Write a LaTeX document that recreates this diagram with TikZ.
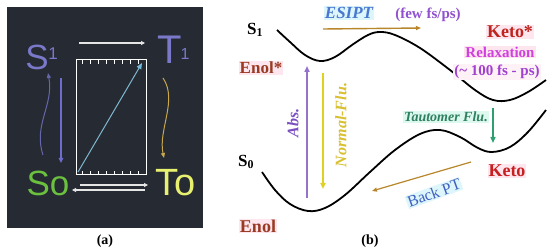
\documentclass[tikz,border=0pt]{standalone}
\usepackage{fontspec}
\setmainfont{Liberation Serif}
\newfontfamily\arialf{Liberation Sans}
\usetikzlibrary{arrows.meta}
\newcommand\fsz[1]{\fontsize{#1}{#1}\selectfont}
\definecolor{panelbg}{HTML}{252A33}
\definecolor{lav}{HTML}{7A78C8}
\definecolor{sgreen}{HTML}{6CC040}
\definecolor{tyellow}{HTML}{E8F070}
\definecolor{gold}{HTML}{C9A84C}
\definecolor{diag}{HTML}{7FB8D0}
\definecolor{brownarr}{HTML}{B8862B}
\definecolor{pinkbg}{HTML}{FDE6EE}
\definecolor{cyanbg}{HTML}{DDF6FB}
\definecolor{mintbg}{HTML}{DDF8EE}
\definecolor{enolc}{HTML}{9A3A22}
\definecolor{ketoc}{HTML}{C82020}
\definecolor{esiptc}{HTML}{4A78D0}
\definecolor{fewc}{HTML}{9050D0}
\definecolor{relaxc}{HTML}{D040E0}
\definecolor{hundc}{HTML}{A040D0}
\definecolor{tautc}{HTML}{2E8060}
\definecolor{tautarr}{HTML}{2EA070}
\definecolor{absc}{HTML}{7A50C0}
\definecolor{normc}{HTML}{D8C030}
\definecolor{normarr}{HTML}{E0D020}
\definecolor{backc}{HTML}{4060C0}
\tikzset{
  wtip/.style={-{Triangle[length=4pt,width=4pt]}},
  warr/.style={draw=white!90!black, line width=1.4pt, wtip},
  tick/.style={draw=white, line width=0.8pt},
  lbl/.style={inner sep=1pt, font=\bfseries},
  curve/.style={line width=1.8pt, black},
  varr/.style={line width=1.6pt, -{Triangle[length=6pt,width=5pt]}}
}
\begin{document}
\begin{tikzpicture}[x=1pt,y=-1pt]
\useasboundingbox (0,0) rectangle (550,251);
\fill[white] (0,0) rectangle (550,251);
% ---------- panel (a)
\fill[panelbg] (7,7) rectangle (203,228);
\node[text=lav, font=\arialf\fsz{35}] (S) at (37,57) {S};
\node[text=lav, font=\arialf\fsz{17}] (S1i) at (53,54) {1};
\node[text=lav, font=\arialf\fsz{40}] (T) at (170,50) {T};
\node[text=lav, font=\arialf\fsz{16}, inner sep=0pt] (T1i) at (185,54) {1};
\node[text=sgreen, font=\arialf\fsz{35}] (So) at (48,183) {So};
\node[text=tyellow, font=\arialf\fsz{38}] (To) at (176,183) {To};
\draw[white, line width=1pt] (76,60) rectangle (146,175);
\foreach \x in {82,90,...,138} {
  \draw[tick] (\x,60) -- (\x,64);
  \draw[tick] (\x,175) -- (\x,171);
}
\coordinate (dA) at (78,172);
\coordinate (dB) at (142,63);
\draw[diag, line width=1pt, -{Triangle[length=6pt,width=5pt,fill=cyan!70!white]}] (dA) -- (dB);
\coordinate (tA) at (79,43); \coordinate (tB) at (145,43);
\draw[warr] (tA) -- (tB);
\coordinate (bA) at (80,185); \coordinate (bB) at (148,185);
\draw[warr] (bA) -- (bB);
\coordinate (cA) at (145,190); \coordinate (cB) at (72,190);
\draw[warr] (cA) -- (cB);
\coordinate (sA) at (61,78); \coordinate (sB) at (61,163);
\draw[draw=lav!90!blue, line width=1.3pt, -{Triangle[length=5pt,width=4.5pt]}] (sA) -- (sB);
\coordinate (wA) at (43,155); \coordinate (wB) at (48,73);
\draw[draw=lav!85!black, line width=1pt, -{Triangle[length=5pt,width=4pt]}] (wA) .. controls (33,125) and (54,105) .. (wB);
\coordinate (yA) at (163,78); \coordinate (yB) at (164,158);
\draw[draw=gold, line width=1pt, -{Triangle[length=5pt,width=4pt]}] (yA) .. controls (178,100) and (158,130) .. (yB);
\node[font=\bfseries\fsz{14}] (la) at (105,241) {(a)};
% ---------- panel (b)
\node[font=\bfseries\fsz{17}] (S1l) at (255,30) {S$_{\mathbf 1}$};
\node[font=\bfseries\fsz{17}] (S0l) at (246,162) {S$_{\mathbf 0}$};
\draw[curve] plot[smooth, tension=0.6] coordinates {(277,30) (290,42) (305,55) (320,61) (335,57) (352,45) (368,35) (380,32) (395,35) (420,48) (450,70) (475,90) (493,100) (510,100) (528,92) (546,80)};
\draw[curve] plot[smooth, tension=0.6] coordinates {(262,172) (275,190) (290,204) (308,211) (325,208) (345,195) (370,172) (395,150) (420,134) (440,130) (460,137) (478,148) (492,152) (510,147) (528,132) (546,110)};
\node[lbl, fill=pinkbg, text=enolc, font=\bfseries\fsz{17}] (Enols) at (261,68) {Enol*};
\node[lbl, fill=pinkbg, text=enolc, font=\bfseries\fsz{18}] (Enol) at (258,226) {Enol};
\node[lbl, fill=cyanbg, text=esiptc, font=\bfseries\itshape\fsz{17}] (esipt) at (349,13) {ESIPT};
\node[lbl, text=fewc, font=\bfseries\fsz{15}] (few) at (428,15) {(few fs/ps)};
\node[lbl, fill=pinkbg, text=ketoc!80!enolc, font=\bfseries\fsz{18}] (Ketos) at (510,32) {Keto*};
\node[lbl, fill=pinkbg, text=relaxc, font=\bfseries\fsz{15}] (relax) at (500,52) {Relaxation};
\node[lbl, fill=pinkbg!50!white, text=hundc, font=\bfseries\fsz{15}] (hund) at (497,72) {(\textasciitilde{} 100 fs - ps)};
\node[lbl, fill=mintbg, text=tautc, font=\bfseries\itshape\fsz{14}] (taut) at (446,117) {Tautomer Flu.};
\node[lbl, fill=pinkbg, text=ketoc, font=\bfseries\fsz{18}] (Keto) at (507,171) {Keto};
\node[lbl, fill=cyanbg, text=backc, font=\fsz{16}, rotate=20] (back) at (434,193) {Back PT};
\node[lbl, text=absc, font=\bfseries\itshape\fsz{16}, rotate=90] (abs) at (293,123) {Abs.};
\node[lbl, text=normc, font=\bfseries\itshape\fsz{16}, rotate=90] (norm) at (341,125) {Normal-Flu.};
\coordinate (eA) at (323,29); \coordinate (eB) at (421,28);
\draw[draw=brownarr, line width=1.4pt, -{Triangle[length=5pt,width=4pt]}] (eA) -- (eB);
\coordinate (aA) at (307,198); \coordinate (aB) at (307,66);
\draw[varr, draw=absc!80!white, fill=absc!80!white] (aA) -- (aB);
\coordinate (nA) at (323,73); \coordinate (nB) at (323,189);
\draw[varr, draw=normarr, fill=normarr] (nA) -- (nB);
\coordinate (gA) at (493,108); \coordinate (gB) at (493,143);
\draw[varr, draw=tautarr, fill=tautarr, line width=1.4pt] (gA) -- (gB);
\coordinate (pA) at (471,162); \coordinate (pB) at (372,191);
\draw[draw=brownarr, line width=1.2pt, -{Triangle[length=5pt,width=4pt]}] (pA) -- (pB);
\node[font=\bfseries\fsz{14}] (lb) at (370,241) {(b)};
\end{tikzpicture}
\end{document}
